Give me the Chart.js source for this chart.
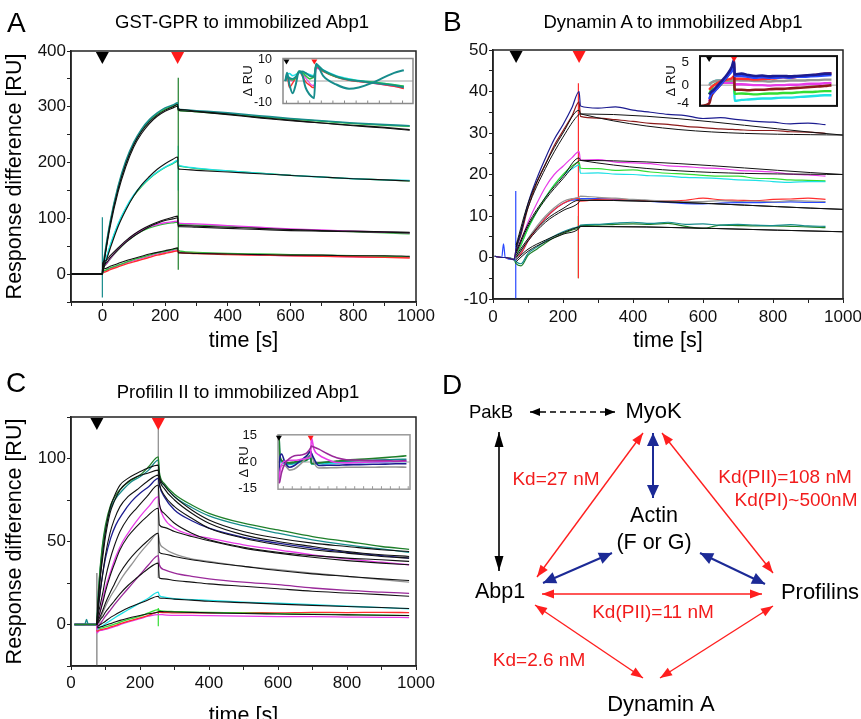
<!DOCTYPE html>
<html>
<head>
<meta charset="utf-8">
<title>Abp1 binding partners</title>
<script src="https://cdn.jsdelivr.net/npm/chart.js@4.4.1/dist/chart.umd.min.js"></script>
<style>
  html, body { margin: 0; padding: 0; }
  body { width: 861px; height: 719px; overflow: hidden; position: relative; background: #fff;
         font-family: "Liberation Sans", Arial, Helvetica, sans-serif; color: #000; }
  canvas { position: absolute; }
  .txt { position: absolute; line-height: 1; white-space: nowrap; }
  .letter { font-size: 28px; }
  .title { font-size: 18.5px; text-align: center; width: 400px; }
</style>
</head>
<body>
<canvas id="chartA" width="440" height="355" style="left:0;top:0"></canvas>
<canvas id="chartB" width="440" height="355" style="left:430px;top:0"></canvas>
<canvas id="chartC" width="440" height="380" style="left:0;top:360px"></canvas>
<canvas id="chartD" width="431" height="359" style="left:430px;top:360px"></canvas>
<canvas id="insetA" width="184" height="66" style="left:236px;top:48px"></canvas>
<canvas id="insetB" width="190" height="72" style="left:656px;top:45px"></canvas>
<canvas id="insetC" width="190" height="96" style="left:228px;top:414px"></canvas>

<div class="txt letter" style="left:7px;top:9px">A</div>
<div class="txt title" style="left:42px;top:12.6px">GST-GPR to immobilized Abp1</div>
<div class="txt letter" style="left:443px;top:8px">B</div>
<div class="txt title" style="left:473px;top:12.6px">Dynamin A to immobilized Abp1</div>
<div class="txt letter" style="left:6px;top:369px">C</div>
<div class="txt title" style="left:38px;top:382.6px">Profilin II to immobilized Abp1</div>
<div class="txt letter" style="left:442px;top:371px">D</div>

<script>
// ---------------- 數據：A  GST-GPR ----------------
const timeA = [-100, -50, 0, 1, 10, 25, 50, 75, 100, 125, 150, 175, 200, 225, 240, 242, 250, 300, 400, 500, 600, 700, 800, 900, 980];
const aTeal1  = [0, 0, 0, 8, 44, 94, 157, 203, 236, 260, 277, 289, 298, 303, 307, 297, 295, 293, 289, 284, 279, 275, 271, 268, 266];
const aGreen1 = [0, 0, 0, 6, 42, 92, 155, 201, 234, 258, 275, 287, 296, 301, 304, 294, 293, 291, 287, 282, 278, 274, 270, 267, 265];
const aFit1   = [0, 0, 0, 5, 40, 90, 152, 198, 232, 256, 273, 285, 294, 300, 304, 296, 295, 292, 287, 281, 276, 271, 267, 263, 259];
const aFit1b  = [0, 0, 0, 4, 37, 85, 147, 193, 228, 252, 270, 283, 292, 298, 301, 294, 293, 291, 286, 280, 275, 271, 266, 262, 258];
const aCyan2  = [0, 0, 0, 5, 24, 52, 90, 119, 142, 159, 172, 183, 192, 199, 204, 197, 194, 190, 185, 181, 177, 174, 171, 169, 168];
const aGreen2 = [0, 0, 0, 4, 22, 50, 88, 117, 140, 157, 171, 182, 191, 198, 202, 195, 193, 189, 185, 181, 177, 174, 171, 169, 167];
const aFit2   = [0, 0, 0, 3, 20, 46, 85, 115, 140, 160, 175, 188, 198, 206, 210, 189, 188, 186, 183, 180, 177, 174, 171, 169, 167];
const aMag3   = [0, 0, 0, 10, 17, 28, 44, 58, 70, 79, 85, 89, 92, 94, 95, 92, 91, 90, 87, 84, 81, 79, 77, 75, 74];
const aGreen3 = [0, 0, 0, 9, 16, 27, 43, 57, 68, 77, 83, 87, 90, 92, 93, 90, 89, 88, 86, 83, 80, 78, 76, 74, 72];
const aFit3   = [0, 0, 0, 20, 24, 33, 47, 60, 71, 80, 87, 93, 98, 102, 104, 87, 87, 86, 84, 82, 80, 78, 77, 76, 75];
const aFit3b  = [0, 0, 0, 14, 19, 29, 44, 57, 68, 77, 85, 91, 96, 99, 101, 85, 85, 84, 82, 80, 78, 77, 76, 75, 74];
const aRed4   = [0, 0, 0, 2, 4, 8, 13, 18, 22, 26, 30, 34, 37, 40, 42, 40, 38, 37, 35, 34, 33, 32, 31, 30, 29];
const aGreen4 = [0, 0, 0, 5, 7, 11, 16, 21, 26, 30, 34, 38, 41, 44, 46, 43, 41, 39, 37, 36, 35, 34, 33, 32, 31];
const aMag4   = [0, 0, 0, 4, 6, 10, 15, 20, 24, 28, 32, 36, 39, 42, 44, 41, 39, 38, 36, 34, 33, 32, 31, 30, 30];
const aFit4   = [0, 0, 0, 8, 10, 14, 19, 24, 28, 32, 36, 39, 42, 45, 47, 38, 38, 37, 36, 35, 34, 34, 33, 33, 32];
const aSpikeT  = [0, 242, 242];
const aSpikeLo = [-42, 8, 150];
const aSpikeHi = [102, 352, 230];
const aMarks = [0, 240];

// 殘差插圖 A
const timeAin = [-10, 5, 25, 53, 80, 108, 136, 164, 200, 225, 238, 255, 316, 428, 539, 622, 733, 844, 928, 1011];
const inATealWave = [0, 3.8, -1.6, -5.7, -1.6, 4.5, 3, -3, -6.4, -7.7, -8, 8.1, 2.4, -1.6, -3.6, -3, -1, 1.8, 3.8, 5];
const inATeal2    = [0, 2.4, 1.5, 1, 2, 4, 4.5, 3.8, 2.4, 2, 2, 7.8, 5, 2.2, 0.5, 0, -0.8, -1.5, -2, -3];
const inAGreen    = [0, 2, 1, 0.5, 1.5, 4.5, 4, 2.5, 1, 1.5, 2, 7.5, 4.8, 2, 0.6, 0, -0.5, -1.2, -1.8, -2.5];
const inACyan     = [0, 3, 3.5, 2.5, 3, 4, 3.5, 3.5, 3, 2.5, 2.5, 7, 5.2, 2.5, 1, 0.2, -0.5, -1.2, -1.8, -2.5];
const inARed      = [0, 2.4, -3, -1, 1.5, 4.5, 2.4, -0.3, -2, -3, -3, 6.5, 4.5, 1.8, 0.3, -0.3, -1, -1.8, -2.5, -3.5];
const inAMagenta  = [0, 1.5, 0.5, 0, 1.5, 4, 3, 1.5, -1, -2, -2, 6, 4.5, 2, 0.5, -0.2, -1, -1.8, -2.5, -3.2];
const inATicks = [-10, 0, 10];

// ---------------- 數據：B  Dynamin A ----------------
const timeB = [5, 25, 30, 35, 60, 66, 80, 100, 125, 150, 175, 200, 225, 246, 250, 300, 350, 400, 450, 500, 550, 600, 650, 700, 750, 800, 850, 900, 950];
const bNavy    = [0.3, 0, 0, 0, -0.5, 2, 6, 13, 19, 24, 28.5, 32, 36, 40, 36.5, 36, 36.3, 35.5, 35, 34.5, 34.2, 33.5, 33.7, 33.2, 32.8, 32.6, 32.2, 32.4, 32];
const bDarkRed = [0.3, 0, 0, 0, -0.5, 2, 5.5, 12, 18, 22.5, 27, 30.5, 34, 37.5, 34, 33.6, 33.2, 32.8, 32.3, 32.1, 31.6, 31.3, 31, 30.8, 30.6, 30.6, 30.3, 30.2, 29.9];
const bMagenta = [0.3, 0, 0, 0, -0.5, 1, 4, 8.5, 13, 17, 20, 22, 24, 25.5, 23.5, 23.6, 23, 22.8, 22.6, 22.1, 21.9, 21.6, 21.4, 21, 20.8, 20.6, 20.1, 19.9, 19.6];
const bGreen   = [0.3, 0, 0, 0, -0.5, 0.5, 3, 7, 11, 14.5, 17.5, 20, 22, 23, 21.5, 21.4, 21, 21.1, 20.6, 20.3, 20.1, 19.8, 19.6, 19.6, 19.1, 19, 18.7, 18.6, 18.5];
const bCyan    = [0.3, 0, 0, 0, -0.5, 0.5, 3, 7, 11, 14.5, 17.5, 19.8, 21.3, 22.3, 20.3, 20.4, 20.1, 20, 19.7, 19.6, 19.3, 19.2, 19, 18.7, 18.6, 18.3, 18.1, 18.3, 18.3];
const bGray    = [0.3, 0, 0, 0, -0.5, 0, 1.5, 4.5, 7.5, 10, 12, 13.5, 14.2, 14.5, 14.8, 14.5, 14.3, 14, 13.8, 13.6, 13.5, 13.5, 13.7, 13.5, 13.6, 13.4, 13.7, 13.6, 13.5];
const bRed     = [0.3, 0, 0, 0, -0.5, 0, 1, 4, 7, 9.5, 11.5, 13, 14, 14.3, 13.6, 14, 14.1, 13.9, 13.6, 13.6, 13.8, 14.3, 13.9, 13.8, 13.7, 14, 14.1, 14.3, 14];
const bBlue    = [0.3, 0, 3.3, 0, -0.5, 0, 1, 4, 7, 9.5, 11.5, 13, 13.8, 14, 14.2, 14.2, 14, 13.8, 13.5, 13.3, 13, 12.9, 13.1, 13.2, 13.2, 13.3, 13.4, 13.3, 13.3];
const bTeal    = [0.3, 0, 0, 0, -0.5, -1, -1.5, 1, 2.5, 4, 5.2, 6.2, 7, 7.5, 7.8, 8, 8.3, 8.5, 8.2, 8.5, 8, 8.1, 7.8, 8, 7.8, 7.7, 7.9, 7.6, 7.5];
const bDkGreen = [0.3, 0, 0, 0, -0.5, -1.5, -2, 0.5, 2, 3.5, 4.8, 5.8, 6.6, 7.2, 7.6, 7.8, 8, 8.1, 8, 8.2, 7.5, 7, 7.8, 7.7, 7.6, 7.6, 7.5, 7.4, 7.2];
const timeBfit = [66, 100, 150, 200, 246, 250, 1000];
const bFit1 = [3, 13, 22.5, 30, 35.5, 34.6, 29.5];
const bFit2 = [2.5, 12, 21.5, 29, 34.5, 34.6, 29.5];
const bFit3 = [1.5, 8, 14.5, 19.5, 24, 23.4, 20];
const bFit4 = [1, 7.5, 14, 19, 23.3, 23.4, 20];
const bFit5 = [0.5, 4.5, 9, 11.8, 13.8, 13.8, 11.6];
const bFit6 = [0, 4, 8.5, 11.3, 13.3, 13.8, 11.6];
const bFit7 = [-0.5, 2, 4.2, 6, 7.4, 7.5, 6.2];
const bFit8 = [-1, 1.5, 3.8, 5.6, 7, 7.5, 6.2];
const bSpikeT  = [65, 244, 244];
const bSpikeLo = [-10, -5, -5];
const bSpikeHi = [16, 42, 10];
const bMarks = [66, 246];

// 殘差插圖 B
const timeBin = [10, 66, 80, 100, 130, 160, 200, 230, 246, 250, 300, 350, 400, 450, 500, 550, 600, 650, 700, 750, 800, 850, 900, 950];
const inBDarkRed = [-4.5, -4, -2.5, -1.5, -0.5, 0.5, 2, 3.5, 5, -1, -1, -1.1, -1, -1, -0.9, -0.8, -0.8, -0.7, -0.6, -0.5, -0.4, -0.3, -0.2, 0];
const inBNavy    = [null, -2, -1.5, -1, 0, 1, 2.5, 4, 5.5, 2.3, 2.5, 2.2, 2, 2.1, 1.9, 2, 2, 1.9, 2, 2.1, 2.2, 2.3, 2.5, 2.5];
const inBBlue    = [null, -3, -2, -1.5, -0.5, 0.5, 2, 3, 4, 2, 2, 1.8, 1.6, 1.7, 1.6, 1.6, 1.7, 1.6, 1.8, 1.8, 1.9, 2, 2.1, 2.2];
const inBRed     = [null, -1, -0.5, 0, 0.5, 1, 1.2, 1.5, 2, 1.4, 1.4, 1.3, 1.2, 1.3, 1.4, 1.5, 1.7, 1.6, 1.8, 2, 2.1, 2.3, 2.5, 2.6];
const inBGray    = [null, 0, 0.5, 0.8, 1, 1, 1, 1, 1, 1.1, 1, 1, 0.9, 0.9, 0.8, 0.9, 0.9, 1, 1, 1, 1.1, 1.1, 1.2, 1.2];
const inBMagenta = [null, -3.5, -2, -1, 0, 0.5, 0.5, 0.5, 0.5, 0.2, 0.2, 0.1, 0, 0, -0.1, 0, 0, 0.1, 0.1, 0.2, 0.3, 0.3, 0.4, 0.5];
const inBGreen   = [null, -2, -1, 0, 0.5, 0.8, 1, 1, 1, -1.9, -1.8, -1.9, -2, -1.9, -1.8, -1.8, -1.7, -1.7, -1.6, -1.5, -1.5, -1.4, -1.3, -1.3];
const inBCyan    = [null, 0.3, 0.5, 0.8, 1, 1, 1, 1, 1, -3.4, -3.2, -3.1, -3, -2.9, -2.9, -2.8, -2.7, -2.7, -2.6, -2.5, -2.4, -2.3, -2.2, -2.2];
const inBTicks = [-4, 0, 5];

// ---------------- 數據：C  Profilin II ----------------
const timeC = [10, 40, 45, 50, 74, 75, 76, 80, 90, 100, 115, 130, 150, 175, 200, 225, 253, 256, 270, 300, 350, 400, 500, 600, 700, 800, 900, 980];
const cGreen   = [0, 0, 0, 0, 0, 0, 5, 22, 46, 60, 72, 78, 83, 87, 90, 95, 101, 92, 85, 78.5, 72, 67, 61, 57, 53, 50, 47, 45.3];
const cTeal    = [0, 0, 3, 0, 0, 0, 5, 21, 44, 58, 70, 76, 81, 86, 89, 93, 99, 90, 84, 77, 70.5, 65.5, 59.5, 55, 51, 48, 45.5, 43.5];
const cNavy    = [0, 0, 0, 0, 0, 0, 3, 12, 28, 40, 52, 60, 67, 74, 79, 83, 88, 84, 77, 69, 62.5, 58, 52.5, 49, 46, 43.5, 41.5, 40];
const cMagenta = [0, 0, 0, 0, 0, -3, -3, 3, 13, 22, 32, 41, 50, 58, 65, 71, 77, 72, 64, 58, 54, 52, 48, 45, 42, 39.5, 37.5, 36];
const cGray    = [0, 0, 0, 0, 0, -2, -2, 0, 6, 11, 17, 22, 29, 36, 43, 49, 55, 50, 46, 42.5, 39.5, 38, 35, 33, 31, 29, 27, 25.5];
const cPurple  = [0, 0, 0, 0, 0, -2, -2, -1, 2, 5, 9, 13, 18, 24, 30, 36, 41.5, 36, 33, 31, 29, 27.5, 25.5, 24, 22, 20.5, 19.5, 18.8];
const cCyan    = [0, 0, 0, 0, 0, -3, -3, -2, -1, 0.5, 2.5, 4.5, 7, 10, 13, 16, 19.5, 17.5, 16.5, 15.5, 15, 14.5, 13.5, 12.8, 12, 11, 10.2, 9.5];
const cLime    = [0, 0, 0, 0, 0, -3, -3, -2.5, -2, -1.5, -0.5, 0.5, 2, 3.5, 5, 7, 9, 8.5, 8, 7.8, 7.5, 7.3, 7, 6.5, 6.2, 6, 5.7, 5.4];
const cRed     = [0, 0, 0, 0, 0, -4, -4, -3.5, -3, -2.5, -1.5, -0.5, 1, 2.5, 4, 5.5, 7.5, 7.3, 7.2, 7, 7, 7, 7.2, 7, 7.3, 7.2, 7.3, 7.2];
const cPink    = [0, 0, 0, 0, 0, -5, -5, -4, -3.5, -3, -2, -1, 0.5, 2, 3.5, 5, 6, 6, 5.8, 5.5, 5.5, 5.3, 5, 4.8, 4.7, 4.5, 4.3, 4.2];
const timeCfit = [75, 78, 85, 93, 100, 113, 125, 142, 165, 190, 220, 253, 256, 270, 300, 350, 400, 500, 600, 700, 800, 900, 980];
const cFit1 = [0, 12, 30, 45, 56, 70, 77, 84, 88, 91, 94, 96, 90, 84, 77, 69, 63, 56, 52, 49, 47, 45, 44];
const cFit2 = [0, 11, 28, 42, 53, 67, 74, 81, 86, 89, 91, 93, 88, 82, 75, 67, 61, 54, 50, 47, 44, 42, 41];
const cFit3 = [0, 8, 20, 32, 42, 55, 63, 71, 77, 81, 86, 90, 85, 78, 71, 64, 58, 52, 48, 45, 43, 41, 40];
const cFit4 = [0, 5, 12, 20, 28, 39, 47, 56, 64, 70, 77, 84, 73, 67, 61, 55, 51, 46.5, 43.5, 41.5, 40, 39, 38];
const cFit5 = [0, 3, 8, 14, 20, 29, 36, 45, 53, 59, 65, 70, 60, 58.5, 56, 53, 50.5, 46, 43, 40.5, 38.5, 37, 36];
const cFit6 = [0, 2, 5, 9, 13, 19, 24, 31, 38, 44, 50, 55, 43.5, 42.5, 41, 39, 37.5, 35, 32.5, 30.5, 29, 27.5, 26.5];
const cFit7 = [0, 1, 3, 5, 7.5, 11, 14, 18.5, 23.5, 28, 33, 37, 28, 27.5, 26.5, 25.5, 24.5, 23, 21.5, 20, 19, 18, 17];
const cFit8 = [-1, -1, 0, 1, 2, 4, 5.5, 7.5, 10, 12, 14.5, 17, 16, 15.8, 15.3, 14.7, 14, 13.2, 12.3, 11.5, 10.8, 10.2, 9.6];
const cFit9 = [-2, -2, -1.5, -1, -0.5, 0.5, 1.3, 2.5, 3.8, 5, 6.3, 7.5, 7.8, 7.7, 7.5, 7.3, 7, 6.6, 6.3, 6, 5.8, 5.6, 5.4];
const cSpikeT  = [75, 253, 253];
const cSpikeLo = [-25, 28, -1];
const cSpikeHi = [31, 122, 10];
const cMarks = [75, 253];

// 殘差插圖 C
const timeCin = [76, 80, 90, 108, 135, 162, 199, 230, 253, 257, 271, 299, 344, 399, 453, 526, 600, 671, 730, 790];
const inCPurple  = [-12, -11, -6, -1, 2, 3.5, 4, 5, 8, 9, 8.5, 7.3, 4.8, 2.4, 1.3, 1, 0.8, 0.8, 0.6, 0.8];
const inCMagenta = [-12, -6, -1.5, 0.5, 1, 1, 1.5, 2, 3, 14, 7.3, 4, 1.6, -0.3, -0.5, -0.3, 0, 0.2, 0.3, 0.5];
const inCNavy    = [-10, 2, 4.5, 0, -3, -2, 1, 3.5, 6, 5, 2, -2, -1.8, -1.8, -1.6, -1.5, -1.3, -1.2, -1, -1];
const inCGray    = [-11, -5, -2, -2, -4.6, -4, -0.9, 2.5, 6, 5, 0, -3.4, -3.3, -3.2, -3, -3, -3, -2.8, -2.8, -3];
const inCGreen   = [15, 5, 1, 0, -0.5, 0, 0.5, 1, 3, -1, -0.9, -0.5, 0, 0.5, 1, 1.5, 2, 2.5, 3, 3.5];
const inCTeal    = [15, 4, 0.5, -0.5, -1, -0.5, 0.5, 1.5, 4, -0.5, -0.8, -0.5, -0.2, 0.2, 0.5, 0.8, 1, 1.2, 1.4, 1.5];
const inCCyan    = [12, 3, 0, -1, -1.5, -1, 0, 1, 2, -1, -1.2, -1, -1, -0.8, -0.5, -0.4, -0.2, 0, 0.2, 0.3];
const inCTicks = [-15, 0, 15];

// ---------------- 數據：D  交互作用圖 ----------------
const nodeNames = ['PakB', 'MyoK', 'Actin', '(F or G)', 'Abp1', 'Profilins', 'Dynamin A'];
const kdLabels = ['Kd=27 nM', 'Kd(PII)=108 nM', 'Kd(PI)~500nM', 'Kd(PII)=11 nM', 'Kd=2.6 nM'];
const linkFrom = ['PakB', 'PakB', 'Abp1', 'MyoK', 'MyoK', 'Abp1', 'Actin', 'Abp1', 'Abp1', 'Profilins'];
const linkTo   = ['MyoK', 'Abp1', 'MyoK', 'Profilins', 'Actin', 'Actin', 'Profilins', 'Profilins', 'Dynamin A', 'Dynamin A'];
const linkKind = ['dashed', 'black', 'red', 'red', 'blue', 'blue', 'blue', 'red', 'red', 'red'];

// ---------------- 版面與樣式 ----------------
const FONT = '"Liberation Sans", Arial, Helvetica, sans-serif';
Chart.defaults.font.family = FONT;
Chart.defaults.color = '#111';

const col = {
  teal: '#178c8c', green: '#2fbf3c', cyan: '#1ee0e6', magenta: '#e83ce8', red: '#ff2e2e',
  navy: '#1c1c90', darkred: '#8c1a1a', blue: '#2848ff', gray: '#949494', purple: '#9a2a9a',
  dkgreen: '#1f7f2a', lime: '#33dd33', fit: '#111111'
};

// 圖框、注射標記（三角形）、零線
function framePlugin(f) {
  return {
    id: 'frame',
    beforeDraw(chart) {
      if (!f.fill) return;
      const a = chart.chartArea, ctx = chart.ctx;
      ctx.save();
      ctx.fillStyle = f.fill;
      ctx.fillRect(a.left, a.top, a.right - a.left, a.bottom - a.top);
      ctx.restore();
    },
    beforeDatasetsDraw(chart) {
      const a = chart.chartArea, ctx = chart.ctx;
      ctx.save();
      if (f.zero) {
        const y = chart.scales.y.getPixelForValue(0);
        ctx.strokeStyle = '#a0a0a0';
        ctx.lineWidth = 1;
        ctx.beginPath(); ctx.moveTo(a.left, y); ctx.lineTo(a.right, y); ctx.stroke();
      }
      if (f.inTickStep) {
        const xs = chart.scales.x;
        ctx.strokeStyle = f.color;
        ctx.lineWidth = 1;
        for (let t = Math.ceil(xs.min / f.inTickStep) * f.inTickStep; t <= xs.max; t += f.inTickStep) {
          const x = xs.getPixelForValue(t);
          ctx.beginPath(); ctx.moveTo(x, a.bottom); ctx.lineTo(x, a.bottom - 3); ctx.stroke();
        }
      }
      ctx.restore();
    },
    afterDatasetsDraw(chart) {
      const a = chart.chartArea, ctx = chart.ctx;
      ctx.save();
      ctx.strokeStyle = f.color;
      ctx.lineWidth = f.width;
      ctx.strokeRect(a.left, a.top, a.right - a.left, a.bottom - a.top);
      (f.marks || []).forEach((t, i) => {
        const x = chart.scales.x.getPixelForValue(t);
        const w = f.triW, h = f.triH;
        ctx.beginPath();
        ctx.moveTo(x - w / 2, a.top + 1);
        ctx.lineTo(x + w / 2, a.top + 1);
        ctx.lineTo(x, a.top + 1 + h);
        ctx.closePath();
        ctx.fillStyle = i === 0 ? '#000' : '#ff1a1a';
        ctx.fill();
      });
      ctx.restore();
    }
  };
}

function pts(xs, ys) {
  const out = [];
  xs.forEach((x, i) => { if (ys[i] !== null && ys[i] !== undefined) out.push({ x, y: ys[i] }); });
  return out;
}
function trace(xs, ys, color, width, order) {
  return { data: pts(xs, ys), borderColor: color, borderWidth: width, pointRadius: 0,
           cubicInterpolationMode: 'monotone', fill: false, order: order };
}
function spikes(ts, lo, hi, colors) {
  return ts.map((t, i) => ({ data: [{ x: t, y: lo[i] }, { x: t, y: hi[i] }], borderColor: colors[i],
           borderWidth: 1.2, pointRadius: 0, tension: 0, fill: false, order: 2 }));
}

function mainChart(id, o) {
  return new Chart(document.getElementById(id), {
    type: 'line',
    data: { datasets: o.datasets },
    options: {
      responsive: false, animation: false, events: [], devicePixelRatio: 1,
      layout: { padding: { top: o.top, right: o.right, left: 0, bottom: 0 } },
      plugins: { legend: { display: false }, tooltip: { enabled: false } },
      scales: {
        x: {
          type: 'linear', min: o.xmin, max: 1000,
          ticks: { stepSize: 100, autoSkip: false, maxRotation: 0, padding: o.xTickPad, font: { size: 17 },
                   callback: v => (v % 200 === 0 ? String(v) : '') },
          grid: { drawOnChartArea: false, tickLength: 4, color: '#222' },
          border: { color: '#222', width: 1.5 },
          title: { display: true, text: 'time [s]', font: { size: 21.5 }, color: '#000',
                   padding: { top: 0, bottom: o.xTitlePad } },
          afterFit: ax => { ax.height = o.xAxisH; }
        },
        y: {
          type: 'linear', min: o.ymin, max: o.ymax,
          ticks: { stepSize: o.yStep, autoSkip: false, padding: 1, font: { size: 17 },
                   callback: v => (v % o.yLabelEvery === 0 ? String(v) : '') },
          grid: { drawOnChartArea: false, tickLength: 4, color: '#222' },
          border: { color: '#222', width: 1.5 },
          title: { display: o.yTitle, text: 'Response difference [RU]', font: { size: 21.5 }, color: '#000',
                   padding: { top: 2, bottom: 0 } },
          afterFit: ax => { ax.width = o.yAxisW; }
        }
      }
    },
    plugins: [framePlugin({ color: '#222', width: 1.5, marks: o.marks, triW: 13, triH: 12 })]
  });
}

function insetChart(id, o) {
  return new Chart(document.getElementById(id), {
    type: 'line',
    data: { datasets: o.datasets },
    options: {
      responsive: false, animation: false, events: [], devicePixelRatio: 1,
      layout: { padding: { top: o.top, right: o.right, left: 0, bottom: o.bottom } },
      plugins: { legend: { display: false }, tooltip: { enabled: false } },
      scales: {
        x: { type: 'linear', display: false, min: o.xmin, max: o.xmax },
        y: {
          type: 'linear', min: o.ymin, max: o.ymax,
          afterBuildTicks: ax => { ax.ticks = o.ticks.map(v => ({ value: v })); },
          ticks: { padding: o.tickPad, font: { size: o.tickSize }, color: '#111', callback: v => String(v) },
          grid: { display: false },
          border: { display: false },
          title: { display: true, text: 'Δ RU', font: { size: 13 }, color: '#111',
                   padding: { top: o.titlePad, bottom: 0 } },
          afterFit: ax => { ax.width = o.yAxisW; }
        }
      }
    },
    plugins: [framePlugin({ color: o.frameColor, width: o.frameWidth, marks: o.marks, triW: 6, triH: 5,
                            fill: '#fff', zero: true, inTickStep: o.inTickStep })]
  });
}

// ---------------- A ----------------
mainChart('chartA', {
  top: 51, right: 24, xmin: -100, ymin: -50, ymax: 400, yStep: 50, yLabelEvery: 100,
  yTitle: true, yAxisW: 71, xAxisH: 53, xTickPad: 0, xTitlePad: 1, marks: aMarks,
  datasets: [
    trace(timeA, aFit1, col.fit, 1.1, 0), trace(timeA, aFit1b, col.fit, 1.1, 0),
    trace(timeA, aFit2, col.fit, 1.1, 0), trace(timeA, aFit3, col.fit, 1.1, 0),
    trace(timeA, aFit3b, col.fit, 1.1, 0), trace(timeA, aFit4, col.fit, 1.1, 0),
    trace(timeA, aTeal1, col.teal, 1.6, 1), trace(timeA, aGreen1, col.green, 1.4, 1),
    trace(timeA, aCyan2, col.cyan, 1.4, 1), trace(timeA, aGreen2, col.green, 1.2, 1),
    trace(timeA, aMag3, col.magenta, 1.4, 1), trace(timeA, aGreen3, col.green, 1.2, 1),
    trace(timeA, aRed4, col.red, 1.4, 1), trace(timeA, aGreen4, col.green, 1.4, 1),
    trace(timeA, aMag4, col.magenta, 1.2, 1),
    ...spikes(aSpikeT, aSpikeLo, aSpikeHi, [col.teal, col.dkgreen, col.cyan])
  ]
});

insetChart('insetA', {
  top: 8, right: 7, bottom: 6, xmin: -30, xmax: 1090, ymin: -10.5, ymax: 10.5, ticks: inATicks,
  tickPad: 3, tickSize: 12.5, titlePad: 5, yAxisW: 47, frameColor: '#8a8a8a', frameWidth: 1.5,
  marks: aMarks, inTickStep: 100,
  datasets: [
    trace(timeAin, inATealWave, col.teal, 2, 0), trace(timeAin, inATeal2, col.teal, 1.8, 1),
    trace(timeAin, inAGreen, col.green, 1.6, 1), trace(timeAin, inACyan, col.cyan, 1.6, 1),
    trace(timeAin, inARed, col.red, 1.4, 2), trace(timeAin, inAMagenta, col.magenta, 1.2, 2)
  ]
});

// ---------------- B ----------------
mainChart('chartB', {
  top: 50, right: 27, xmin: 0, ymin: -10, ymax: 50, yStep: 5, yLabelEvery: 10,
  yTitle: false, yAxisW: 63, xAxisH: 56, xTickPad: 4, xTitlePad: 1, marks: bMarks,
  datasets: [
    trace(timeBfit, bFit1, col.fit, 1, 0), trace(timeBfit, bFit2, col.fit, 1, 0),
    trace(timeBfit, bFit3, col.fit, 1, 0), trace(timeBfit, bFit4, col.fit, 1, 0),
    trace(timeBfit, bFit5, col.fit, 1, 0), trace(timeBfit, bFit6, col.fit, 1, 0),
    trace(timeBfit, bFit7, col.fit, 1, 0), trace(timeBfit, bFit8, col.fit, 1, 0),
    trace(timeB, bNavy, col.navy, 1.2, 1), trace(timeB, bDarkRed, col.darkred, 1.2, 1),
    trace(timeB, bMagenta, col.magenta, 1.2, 1), trace(timeB, bGreen, col.lime, 1.2, 1),
    trace(timeB, bCyan, col.cyan, 1.2, 1), trace(timeB, bGray, col.gray, 1.2, 1),
    trace(timeB, bRed, col.red, 1.2, 1), trace(timeB, bBlue, col.blue, 1.2, 1),
    trace(timeB, bTeal, col.teal, 1.2, 1), trace(timeB, bDkGreen, col.dkgreen, 1.2, 1),
    ...spikes(bSpikeT, bSpikeLo, bSpikeHi, [col.blue, col.red, col.lime])
  ]
});

insetChart('insetB', {
  top: 8, right: 9, bottom: 4, xmin: 0, xmax: 990, ymin: -4.5, ymax: 6.3, ticks: inBTicks,
  tickPad: 3, tickSize: 13.5, titlePad: 8, yAxisW: 44, frameColor: '#111', frameWidth: 2,
  marks: bMarks, inTickStep: 0,
  datasets: [
    trace(timeBin, inBNavy, col.navy, 2.6, 0), trace(timeBin, inBBlue, col.blue, 2.4, 0),
    trace(timeBin, inBRed, col.red, 2.4, 1), trace(timeBin, inBGray, col.gray, 2.4, 1),
    trace(timeBin, inBMagenta, col.magenta, 2.4, 1), trace(timeBin, inBDarkRed, col.darkred, 2.6, 0),
    trace(timeBin, inBGreen, col.lime, 2.4, 1), trace(timeBin, inBCyan, col.cyan, 2.4, 1)
  ]
});

// ---------------- C ----------------
mainChart('chartC', {
  top: 57, right: 24, xmin: 0, ymin: -25, ymax: 125, yStep: 25, yLabelEvery: 50,
  yTitle: true, yAxisW: 71, xAxisH: 74, xTickPad: 3, xTitlePad: 11, marks: cMarks,
  datasets: [
    trace(timeCfit, cFit1, col.fit, 1.1, 0), trace(timeCfit, cFit2, col.fit, 1.1, 0),
    trace(timeCfit, cFit3, col.fit, 1.1, 0), trace(timeCfit, cFit4, col.fit, 1.1, 0),
    trace(timeCfit, cFit5, col.fit, 1.1, 0), trace(timeCfit, cFit6, col.fit, 1.1, 0),
    trace(timeCfit, cFit7, col.fit, 1.1, 0), trace(timeCfit, cFit8, col.fit, 1.1, 0),
    trace(timeCfit, cFit9, col.fit, 1.1, 0),
    trace(timeC, cGreen, col.dkgreen, 1.3, 1), trace(timeC, cTeal, col.teal, 1.3, 1),
    trace(timeC, cNavy, col.navy, 1.3, 1), trace(timeC, cMagenta, col.magenta, 1.3, 1),
    trace(timeC, cGray, col.gray, 1.3, 1), trace(timeC, cPurple, col.purple, 1.3, 1),
    trace(timeC, cCyan, col.cyan, 1.3, 1), trace(timeC, cLime, col.lime, 1.3, 1),
    trace(timeC, cRed, col.red, 1.3, 1), trace(timeC, cPink, col.magenta, 1.3, 1),
    ...spikes(cSpikeT, cSpikeLo, cSpikeHi, ['#777', '#888', col.lime])
  ]
});

insetChart('insetC', {
  top: 8, right: 8, bottom: 6, xmin: 70, xmax: 810, ymin: -15.4, ymax: 15.4, ticks: inCTicks,
  tickPad: 13, tickSize: 13, titlePad: 9, yAxisW: 50, frameColor: '#999', frameWidth: 1.5,
  marks: cMarks, inTickStep: 50,
  datasets: [
    trace(timeCin, inCPurple, col.purple, 1.6, 0), trace(timeCin, inCMagenta, col.magenta, 1.6, 0),
    trace(timeCin, inCNavy, col.navy, 1.6, 0), trace(timeCin, inCGray, col.gray, 1.6, 1),
    trace(timeCin, inCGreen, col.dkgreen, 1.6, 1), trace(timeCin, inCTeal, col.teal, 1.6, 1),
    trace(timeCin, inCCyan, col.cyan, 1.4, 1)
  ]
});

// ---------------- D：交互作用圖 ----------------
const diagramLayout = {
  nodes: {
    'PakB': [61, 52.5, 18.5], 'MyoK': [223.5, 52, 22], 'Actin': [224, 156, 21.5],
    '(F or G)': [224, 183.5, 21.5], 'Abp1': [70, 232.5, 21.5], 'Profilins': [390, 232.5, 22],
    'Dynamin A': [231, 345, 22]
  },
  labels: [[126, 119.5], [355, 117.5], [366, 141], [223, 252.5], [109, 300.5]],
  links: [
    [100, 52, 185, 52], [69, 72, 69, 211], [107, 217, 213, 73], [232, 73, 343, 213],
    [223, 73, 223, 138], [113, 223, 182, 193], [270, 193, 335, 224], [112, 234, 332, 234],
    [105, 245, 213, 318], [343, 246, 230, 318]
  ]
};
const linkStyle = {
  red:    { color: '#ff1f1f', width: 1.4, len: 12, half: 4.5 },
  blue:   { color: '#1c2a96', width: 2,   len: 13, half: 6 },
  black:  { color: '#000',    width: 1.6, len: 15, half: 4.5 },
  dashed: { color: '#000',    width: 1.5, len: 10, half: 4, dash: [6, 4] }
};

function arrowHead(ctx, x, y, ang, len, half, color) {
  const c = Math.cos(ang), s = Math.sin(ang);
  ctx.beginPath();
  ctx.moveTo(x, y);
  ctx.lineTo(x - len * c + half * s, y - len * s - half * c);
  ctx.lineTo(x - len * c - half * s, y - len * s + half * c);
  ctx.closePath();
  ctx.fillStyle = color;
  ctx.fill();
}

const diagramPlugin = {
  id: 'diagram',
  afterDatasetsDraw(chart) {
    const ctx = chart.ctx, xs = chart.scales.x, ys = chart.scales.y;
    ctx.save();
    linkKind.forEach((k, i) => {
      const s = linkStyle[k];
      const [p0, p1] = chart.getDatasetMeta(i).data;
      const ang = Math.atan2(p1.y - p0.y, p1.x - p0.x);
      arrowHead(ctx, p1.x, p1.y, ang, s.len, s.half, s.color);
      arrowHead(ctx, p0.x, p0.y, ang + Math.PI, s.len, s.half, s.color);
    });
    ctx.textAlign = 'center';
    ctx.textBaseline = 'middle';
    ctx.fillStyle = '#000';
    nodeNames.forEach(n => {
      const [x, y, size] = diagramLayout.nodes[n];
      ctx.font = size + 'px ' + FONT;
      ctx.fillText(n, xs.getPixelForValue(x), ys.getPixelForValue(y));
    });
    ctx.fillStyle = '#f21c1c';
    ctx.font = '19px ' + FONT;
    kdLabels.forEach((t, i) => {
      const [x, y] = diagramLayout.labels[i];
      ctx.fillText(t, xs.getPixelForValue(x), ys.getPixelForValue(y));
    });
    ctx.restore();
  }
};

new Chart(document.getElementById('chartD'), {
  type: 'scatter',
  data: {
    datasets: linkKind.map((k, i) => {
      const [x1, y1, x2, y2] = diagramLayout.links[i];
      const s = linkStyle[k];
      return { label: linkFrom[i] + '–' + linkTo[i], data: [{ x: x1, y: y1 }, { x: x2, y: y2 }],
               showLine: true, borderColor: s.color, borderWidth: s.width, borderDash: s.dash || [],
               pointRadius: 0, tension: 0 };
    })
  },
  options: {
    responsive: false, animation: false, events: [], devicePixelRatio: 1,
    layout: { padding: 0 },
    plugins: { legend: { display: false }, tooltip: { enabled: false } },
    scales: {
      x: { type: 'linear', display: false, min: 0, max: 431 },
      y: { type: 'linear', display: false, min: 0, max: 359, reverse: true }
    }
  },
  plugins: [diagramPlugin]
});
</script>
</body>
</html>
